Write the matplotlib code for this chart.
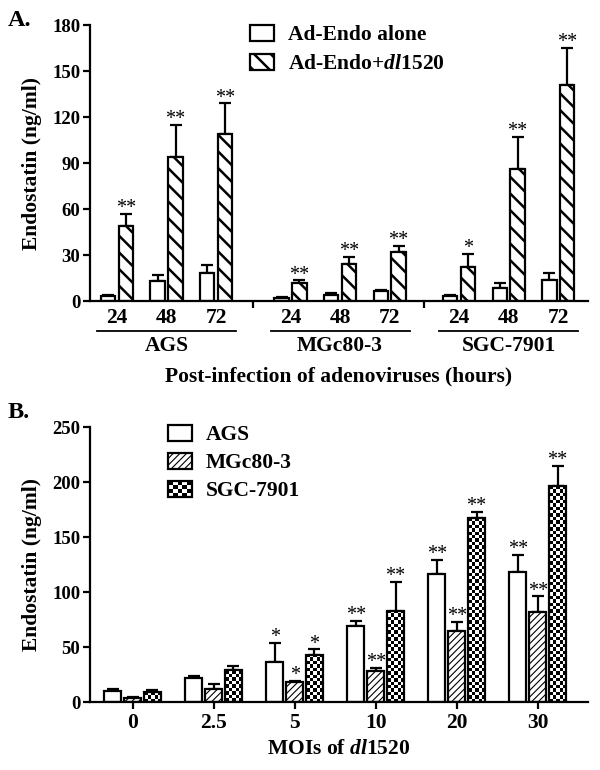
import numpy as np
import matplotlib
matplotlib.use("Agg")
import matplotlib.pyplot as plt
from matplotlib.patches import Rectangle, Patch
from matplotlib.legend_handler import HandlerBase

plt.rcParams['font.family'] = ['Liberation Serif', 'DejaVu Serif']
plt.rcParams['font.weight'] = 'bold'
plt.rcParams['axes.labelweight'] = 'bold'
plt.rcParams['mathtext.fontset'] = 'custom'
plt.rcParams['mathtext.rm'] = 'Liberation Serif:bold'
plt.rcParams['mathtext.it'] = 'Liberation Serif:italic:bold'

# ---- panel A data ----
cell_lines = ["AGS", "MGc80-3", "SGC-7901"]
hours = ["24", "48", "72"]
alone_mean = [3, 13, 18, 2, 4, 6.5, 3, 8.5, 14]
alone_err = [1, 4, 5.5, 0.5, 1, 1, 1, 3.5, 4.5]
combo_mean = [49, 94, 109, 12, 24, 32, 22, 86, 141]
combo_err = [8, 21, 20, 1.5, 5, 4, 9, 21, 24]
combo_stars = ["**", "**", "**", "**", "**", "**", "*", "**", "**"]

# ---- panel B data ----
mois = ["0", "2.5", "5", "10", "20", "30"]
ags_mean = [10, 22, 36, 69, 116, 118]
ags_err = [2, 2, 18, 5, 13, 16]
mgc_mean = [4, 12, 18, 28, 65, 82]
mgc_err = [0.5, 4, 1, 3, 8, 14]
sgc_mean = [9, 29, 43, 83, 167, 196]
sgc_err = [2, 4, 5, 26, 6, 19]
ags_stars = ["", "", "*", "**", "**", "**"]
mgc_stars = ["", "", "*", "**", "**", "**"]
sgc_stars = ["", "", "*", "**", "**", "**"]

LW = 1.6
TICK_FS = 13.5
LAB_FS = 15.5


def set_hatch_lw(patches, lw):
    for p in patches:
        try:
            p.set_hatch_linewidth(lw)
        except AttributeError:
            pass


def add_errors(ax, x, y, err, capsize):
    ax.errorbar(x, y, yerr=[np.zeros(len(err)), err], fmt='none', ecolor='black',
                elinewidth=LW, capsize=capsize, capthick=LW, zorder=1)


def add_stars(ax, x, y, err, stars):
    for xi, yi, ei, s in zip(x, y, err, stars):
        if s:
            ax.annotate(s, (xi, yi + ei), xytext=(0, 0.5), textcoords='offset points',
                        ha='center', va='baseline', fontsize=14.5, fontweight='normal')


def style_axes(ax):
    for side in ['top', 'right']:
        ax.spines[side].set_visible(False)
    for side in ['left', 'bottom']:
        ax.spines[side].set_linewidth(LW)
    ax.tick_params(axis='y', width=LW, length=5, labelsize=TICK_FS, pad=2)


class CheckerHandler(HandlerBase):
    def create_artists(self, legend, orig_handle, xdescent, ydescent, width, height, fontsize, trans):
        x0, y0 = -xdescent, -ydescent
        arts = [Rectangle((x0, y0), width, height, fc='black', ec='none', transform=trans)]
        nx, ny = 5, 4
        for i in range(nx):
            for j in range(ny):
                if (i + j) % 2 == 0:
                    arts.append(Rectangle((x0 + i * width / nx, y0 + j * height / ny), width / nx, height / ny,
                                          fc='white', ec='none', transform=trans))
        arts.append(Rectangle((x0, y0), width, height, fill=False, ec='black', lw=LW, transform=trans))
        return arts


fig = plt.figure(figsize=(6, 7.7), dpi=100)

# ================= Panel A =================
axA = fig.add_axes([0.15, 0.609, 0.83, 0.3584])
group_start = [0, 3.5, 6.9]
pos = np.array([g + k for g in group_start for k in range(len(hours))], dtype=float)
off, w = 0.18, 0.29

plt.rcParams['hatch.linewidth'] = 1.8
b1 = axA.bar(pos - off, alone_mean, w, color='white', edgecolor='black', linewidth=LW, zorder=2)
b2 = axA.bar(pos + off, combo_mean, w, color='white', edgecolor='black', linewidth=LW,
             hatch='\\\\', zorder=2)
set_hatch_lw(b2, 1.8)
add_errors(axA, pos - off, alone_mean, alone_err, 4)
add_errors(axA, pos + off, combo_mean, combo_err, 4)
add_stars(axA, pos + off, combo_mean, combo_err, combo_stars)

axA.set_xlim(-0.545, 9.5)
axA.set_ylim(0, 180)
axA.set_yticks(np.arange(0, 181, 30))
style_axes(axA)
seps = [(group_start[i] + len(hours) - 1 + group_start[i + 1]) / 2 for i in range(len(group_start) - 1)]
axA.set_xticks(seps)
axA.set_xticklabels([])
axA.tick_params(axis='x', which='major', width=LW, length=5)
axA.set_xticks(pos, minor=True)
axA.set_xticklabels(hours * len(cell_lines), minor=True, fontsize=LAB_FS)
axA.tick_params(axis='x', which='minor', length=0, pad=5)

tr = axA.get_xaxis_transform()
for g, name in zip(group_start, cell_lines):
    axA.plot([g - 0.4, g + len(hours) - 1 + 0.4], [-0.108, -0.108], color='black', lw=1.3,
             transform=tr, clip_on=False)
    axA.text(g + (len(hours) - 1) / 2, -0.162, name, transform=tr, ha='center', va='center',
             fontsize=LAB_FS)
axA.text(0.5, -0.272, "Post-infection of adenoviruses (hours)", transform=axA.transAxes,
         ha='center', va='center', fontsize=LAB_FS)
axA.set_ylabel("Endostatin (ng/ml)", fontsize=LAB_FS, labelpad=7)

hA = [Patch(facecolor='white', edgecolor='black', linewidth=LW),
      Patch(facecolor='white', edgecolor='black', linewidth=LW, hatch='\\\\')]
set_hatch_lw(hA[1:], 1.8)
axA.legend(hA, ["Ad-Endo alone", "Ad-Endo+$\\mathit{dl}$1520"], loc='upper left',
           bbox_to_anchor=(0.321, 1.0), frameon=False, fontsize=LAB_FS, borderpad=0,
           borderaxespad=0, handlelength=1.1, handleheight=0.75, handletextpad=0.65,
           labelspacing=0.4)

# ================= Panel B =================
axB = fig.add_axes([0.15, 0.0883, 0.83, 0.357])
xb = np.arange(len(mois), dtype=float)
offB, wB = 0.245, 0.21

plt.rcParams['hatch.linewidth'] = 0.8
c1 = axB.bar(xb - offB, ags_mean, wB, color='white', edgecolor='black', linewidth=LW, zorder=2)
c2 = axB.bar(xb, mgc_mean, wB, color='white', edgecolor='black', linewidth=LW, hatch='/////', zorder=2)
set_hatch_lw(c2, 0.8)
c3 = axB.bar(xb + offB, sgc_mean, wB, color='none', edgecolor='black', linewidth=LW, zorder=3)

axB.set_xlim(-0.525, 5.62)
axB.set_ylim(0, 250)
# checkerboard fill for SGC-7901 bars, clipped to each bar
px_per_unit = 275 / 250
for bar in c3:
    bx, bw, bh = bar.get_x(), bar.get_width(), bar.get_height()
    nx = 5
    ny = max(1, int(round(bh * px_per_unit / 3.4)))
    board = (np.add.outer(np.arange(ny), np.arange(nx)) % 2).astype(float)
    im = axB.imshow(board, cmap='gray', extent=[bx, bx + bw, 0, bh], aspect='auto',
                    interpolation='nearest', zorder=2, vmin=0, vmax=1)
    im.set_clip_path(bar)

add_errors(axB, xb - offB, ags_mean, ags_err, 4.5)
add_errors(axB, xb, mgc_mean, mgc_err, 4.5)
add_errors(axB, xb + offB, sgc_mean, sgc_err, 4.5)
add_stars(axB, xb - offB, ags_mean, ags_err, ags_stars)
add_stars(axB, xb, mgc_mean, mgc_err, mgc_stars)
add_stars(axB, xb + offB, sgc_mean, sgc_err, sgc_stars)

axB.set_xlim(-0.525, 5.62)
axB.set_ylim(0, 250)
axB.set_yticks(np.arange(0, 251, 50))
style_axes(axB)
axB.set_xticks(xb)
axB.set_xticklabels(mois, fontsize=LAB_FS)
axB.tick_params(axis='x', width=LW, length=5, pad=3)
axB.text(0.5, -0.172, "MOIs of $\\mathit{dl}$1520", transform=axB.transAxes,
         ha='center', va='center', fontsize=LAB_FS)
axB.set_ylabel("Endostatin (ng/ml)", fontsize=LAB_FS, labelpad=7)

hB = [Patch(facecolor='white', edgecolor='black', linewidth=LW),
      Patch(facecolor='white', edgecolor='black', linewidth=LW, hatch='/////'),
      Patch(facecolor='black')]
set_hatch_lw(hB[1:2], 0.8)
axB.legend(hB, ["AGS", "MGc80-3", "SGC-7901"], handler_map={hB[2]: CheckerHandler()},
           loc='upper left', bbox_to_anchor=(0.157, 1.008), frameon=False, fontsize=LAB_FS,
           borderpad=0, borderaxespad=0, handlelength=1.1, handleheight=0.75,
           handletextpad=0.65, labelspacing=0.35)

fig.text(0.013, 1 - 21 / 770, "A.", fontsize=17.5, ha='left', va='center')
fig.text(0.013, 1 - 413 / 770, "B.", fontsize=17.5, ha='left', va='center')

fig.savefig("out.png", dpi=100)
